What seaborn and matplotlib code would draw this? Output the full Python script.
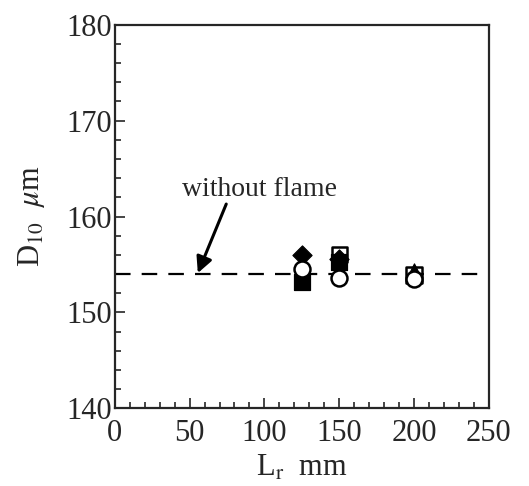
import matplotlib
matplotlib.use("Agg")
import matplotlib.pyplot as plt
import seaborn as sns
import pandas as pd
from matplotlib.ticker import MultipleLocator

# data
open_circle_x = [125, 150, 200]
open_circle_y = [154.5, 153.6, 153.5]
filled_square_x = [125, 150]
filled_square_y = [153.2, 155.3]
open_square_x = [150, 200]
open_square_y = [156.0, 153.9]
filled_diamond_x = [125, 150]
filled_diamond_y = [156.0, 155.6]
filled_triangle_x = [125, 200]
filled_triangle_y = [155.0, 154.3]
no_flame_x = [0, 250]
no_flame_y = [154.0, 154.0]

sns.set_style("ticks")
plt.rcParams['font.family'] = ['Liberation Serif', 'DejaVu Serif']
plt.rcParams['mathtext.fontset'] = 'stix'

fig = plt.figure(figsize=(5.29, 4.86), dpi=100)
ax = fig.add_axes([0.217, 0.160, 0.707, 0.789])

sns.lineplot(x=no_flame_x, y=no_flame_y, ax=ax, color='black', lw=1.6,
             dashes=False, linestyle=(0, (7, 5)))

ms = 120
sns.scatterplot(x=filled_square_x, y=filled_square_y, ax=ax, marker='s',
                color='black', edgecolor='black', s=ms, zorder=3)
sns.scatterplot(x=filled_triangle_x, y=filled_triangle_y, ax=ax, marker='^',
                color='black', edgecolor='black', s=ms, zorder=3)
sns.scatterplot(x=filled_diamond_x, y=filled_diamond_y, ax=ax, marker='D',
                color='black', edgecolor='black', s=ms * 0.8, zorder=3)
sns.scatterplot(x=open_square_x, y=open_square_y, ax=ax, marker='s',
                facecolor='none', edgecolor='black', linewidth=1.8, s=ms, zorder=4)
sns.scatterplot(x=open_circle_x, y=open_circle_y, ax=ax, marker='o',
                facecolor='white', edgecolor='black', linewidth=1.8, s=ms * 1.1, zorder=5)

ax.text(97, 162.8, 'without flame', ha='center', va='center', fontsize=20)
ax.annotate('', xy=(55.5, 154.1), xytext=(74.5, 161.3),
            arrowprops=dict(arrowstyle='-|>', color='black', lw=2.2,
                            mutation_scale=24, shrinkA=0, shrinkB=0))

ax.set_xlim(0, 250)
ax.set_ylim(140, 180)
ax.xaxis.set_major_locator(MultipleLocator(50))
ax.xaxis.set_minor_locator(MultipleLocator(10))
ax.yaxis.set_major_locator(MultipleLocator(10))
ax.yaxis.set_minor_locator(MultipleLocator(2))
ax.tick_params(which='both', direction='in', width=1.2, labelsize=22,
               top=False, right=False)
ax.tick_params(axis='x', pad=8)
ax.tick_params(axis='y', pad=2)
ax.tick_params(which='major', length=7)
ax.tick_params(which='minor', length=4)
for sp in ax.spines.values():
    sp.set_linewidth(1.6)

ax.set_xlabel(r'L$_{\rm r}$  mm', fontsize=22, labelpad=4)
ax.set_ylabel(r'D$_{10}$  $\mu$m', fontsize=22, labelpad=14)

fig.savefig('out.png', dpi=100)
